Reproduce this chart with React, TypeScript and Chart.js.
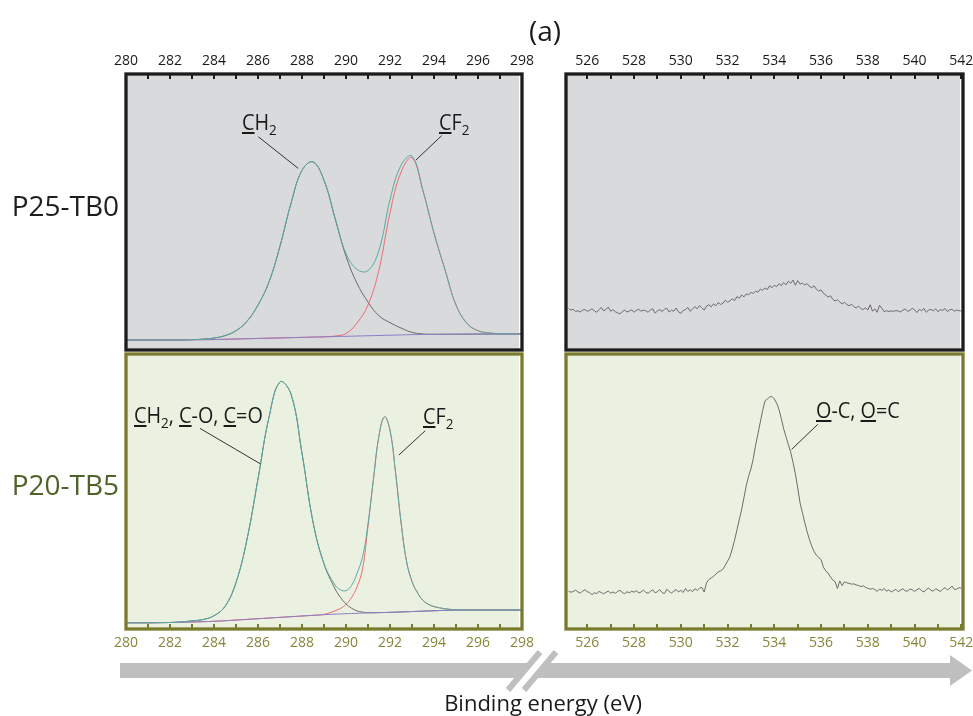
import React, { useEffect, useRef } from "react";
import { Chart, registerables } from "chart.js";

Chart.register(...registerables);

// ---------- axis ticks ----------
const C1S_TICKS = [280, 281, 282, 283, 284, 285, 286, 287, 288, 289, 290, 291, 292, 293, 294, 295, 296, 297, 298];
const C1S_TICK_LABELS = [280, 282, 284, 286, 288, 290, 292, 294, 296, 298];
const O1S_TICKS = [526, 527, 528, 529, 530, 531, 532, 533, 534, 535, 536, 537, 538, 539, 540, 541, 542];
const O1S_TICK_LABELS = [526, 528, 530, 532, 534, 536, 538, 540, 542];

// ---------- C1s, P25-TB0 (binding energy, eV) ----------
const TB0_C1S_X = [280, 280.5, 281, 281.5, 282, 282.5, 283, 283.5, 284, 284.5, 285, 285.5, 286, 286.5, 287, 287.5, 288, 288.5, 289, 289.5, 290, 290.5, 291, 291.5, 292, 292.5, 293, 293.5, 294, 294.5, 295, 295.5, 296, 296.5, 297, 297.5, 298];
const TB0_C1S_ENVELOPE = [2.6, 2.6, 2.6, 2.6, 2.6, 2.6, 2.7, 2.9, 3.3, 4.2, 6.0, 9.5, 15.5, 24, 37.2, 53.0, 65.2, 68.3, 61.5, 47.7, 34.5, 28.6, 28.2, 35.75, 54.35, 67.05, 70.45, 57.7, 42.05, 28.5, 15.5, 8.7, 6.0, 5.2, 4.9, 4.8, 4.8];
const TB0_C1S_CH2 = [2.6, 2.6, 2.6, 2.6, 2.6, 2.6, 2.7, 2.9, 3.3, 4.2, 6.0, 9.5, 15.5, 24, 37.2, 53.0, 65.2, 68.3, 61.5, 47.5, 33.5, 23.5, 16.6, 11.5, 9.0, 7.0, 5.4, 4.8, 4.7, 4.7, 4.72, 4.75, 4.77, 4.78, 4.8, 4.8, 4.8];
const TB0_C1S_CF2 = [2.6, 2.6, 2.6, 2.6, 2.6, 2.6, 2.65, 2.7, 2.75, 2.85, 2.95, 3.05, 3.15, 3.25, 3.35, 3.45, 3.55, 3.65, 3.75, 4.05, 4.95, 8.85, 15.5, 28.5, 49.5, 64.5, 69.8, 57.5, 42, 28.5, 15.5, 8.7, 6.0, 5.2, 4.9, 4.8, 4.8];
const TB0_C1S_BACKGROUND = [2.6, 2.6, 2.6, 2.6, 2.6, 2.6, 2.65, 2.7, 2.75, 2.85, 2.95, 3.05, 3.15, 3.25, 3.35, 3.45, 3.55, 3.65, 3.75, 3.85, 3.95, 4.05, 4.15, 4.25, 4.35, 4.45, 4.55, 4.6, 4.65, 4.7, 4.72, 4.75, 4.77, 4.78, 4.8, 4.8, 4.8];

// ---------- C1s, P20-TB5 ----------
const TB5_C1S_X = [280, 280.5, 281, 281.5, 282, 282.5, 283, 283.5, 284, 284.5, 285, 285.5, 286, 286.5, 287, 287.5, 288, 288.5, 289, 289.5, 289.75, 290, 290.25, 290.5, 290.75, 291, 291.25, 291.5, 291.75, 292, 292.25, 292.5, 292.75, 293, 293.25, 293.5, 293.75, 294, 294.5, 295, 295.5, 296, 296.5, 297, 297.5, 298];
const TB5_C1S_ENVELOPE = [1.2, 1.2, 1.2, 1.25, 1.3, 1.5, 1.9, 2.4, 3.8, 7.25, 16.1, 32.1, 54.5, 77.3, 90.4, 85.9, 64.0, 38.55, 23.1, 15.2, 13.4, 13.1, 15.0, 19.5, 25.5, 37.8, 54.6, 70.5, 77.5, 72.5, 57.0, 38.5, 24.0, 16.5, 12.3, 9.5, 8.0, 7.2, 6.4, 6.0, 5.9, 5.9, 5.9, 5.9, 5.9, 5.9];
const TB5_C1S_CH = [1.2, 1.2, 1.2, 1.25, 1.3, 1.5, 1.9, 2.4, 3.8, 7.25, 16.1, 32.1, 54.5, 77.3, 90.4, 85.9, 64.0, 38.5, 23.0, 13.8, 10.6, 8.2, 6.6, 5.6, 5.15, 4.95, 4.92, 4.96, 5.0, 5.05, 5.13, 5.2, 5.28, 5.35, 5.43, 5.5, 5.58, 5.65, 5.8, 5.9, 5.9, 5.9, 5.9, 5.9, 5.9, 5.9];
const TB5_C1S_CF2 = [1.2, 1.2, 1.2, 1.25, 1.3, 1.4, 1.5, 1.6, 1.75, 1.95, 2.2, 2.45, 2.7, 2.95, 3.2, 3.45, 3.7, 3.95, 4.3, 5.6, 6.5, 8.0, 10.5, 14.5, 21.0, 37.0, 54.5, 70.5, 77.5, 72.5, 57.0, 38.5, 24.0, 16.5, 12.3, 9.5, 8.0, 7.2, 6.4, 6.0, 5.9, 5.9, 5.9, 5.9, 5.9, 5.9];
const TB5_C1S_BACKGROUND = [1.2, 1.2, 1.2, 1.25, 1.3, 1.4, 1.5, 1.6, 1.75, 1.95, 2.2, 2.45, 2.7, 2.95, 3.2, 3.45, 3.7, 3.95, 4.2, 4.4, 4.48, 4.55, 4.63, 4.7, 4.78, 4.85, 4.9, 4.95, 5.0, 5.05, 5.13, 5.2, 5.28, 5.35, 5.43, 5.5, 5.58, 5.65, 5.8, 5.9, 5.9, 5.9, 5.9, 5.9, 5.9, 5.9];

// ---------- O1s spectra, sampled every 0.1 eV from 525.2 to 542.0 ----------
const O1S_START = 525.2;
const O1S_STEP = 0.1;
const TB0_O1S = [
  14.2, 13.6, 13.9, 13.1, 13.4, 12.9, 13.6, 13.8, 13.2, 13.5,
  14.1, 13.4, 12.8, 13.7, 14.6, 13.3, 13.9, 14.7, 13.2, 13.8,
  13.0, 12.6, 12.2, 13.1, 13.6, 12.9, 13.3, 13.7, 12.8, 13.5,
  13.9, 13.2, 13.6, 13.4, 12.8, 13.7, 14.1, 12.5, 13.3, 13.8,
  13.1, 13.9, 14.3, 12.9, 13.6, 13.2, 14.4, 13.0, 12.4, 13.5,
  13.8, 14.6, 13.2, 14.0, 14.9, 14.1, 15.3, 14.4, 13.6, 15.1,
  15.6, 14.8, 15.9, 15.2, 16.4, 15.7, 16.1, 17.3, 16.5, 17.0,
  17.8, 17.1, 18.6, 18.0, 19.2, 18.5, 19.6, 19.3, 20.1, 19.8,
  20.6, 20.2, 21.4, 20.9, 21.8, 21.2, 22.6, 21.9, 22.8, 22.3,
  23.4, 22.6, 23.8, 22.9, 24.3, 23.5, 24.7, 22.8, 24.5, 23.2,
  23.6, 22.9, 23.4, 22.4, 21.9, 22.6, 21.3, 20.6, 21.1, 19.8,
  19.2, 18.4, 18.9, 17.6, 17.0, 17.4, 16.6, 15.9, 16.5, 15.7,
  15.2, 15.8, 14.9, 14.4, 15.1, 14.2, 13.8, 14.5, 13.6, 15.6,
  13.2, 14.1, 12.8, 15.4, 14.3, 13.0, 13.4, 13.1, 13.3, 13.2,
  13.4, 13.3, 12.9, 13.6, 14.0, 13.2, 13.5, 14.3, 13.7, 12.7,
  13.9, 13.4, 14.2, 12.8, 13.6, 13.9, 13.3, 14.1, 13.0, 13.8,
  13.5, 14.2, 13.1, 13.7, 13.9, 13.2, 13.6, 13.4, 13.3,
];
const TB5_O1S = [
  12.9, 12.5, 12.8, 13.3, 12.6, 12.2, 12.9, 13.4, 12.7, 12.4,
  11.6, 12.3, 12.0, 12.8, 12.4, 11.9, 12.5, 12.9, 12.2, 12.6,
  12.1, 12.8, 13.2, 12.4, 12.0, 12.7, 12.3, 12.9, 12.5, 13.1,
  12.2, 12.6, 13.3, 12.5, 12.1, 12.8, 13.4, 12.3, 12.7, 13.5,
  12.4, 12.0, 13.6, 12.8, 12.2, 12.9, 13.5, 12.6, 13.2, 12.4,
  13.9, 12.8, 13.4, 12.7, 13.8, 13.2, 14.0, 14.3, 12.6, 16.0,
  17.2, 17.8, 18.4, 19.2, 20.0, 20.4, 21.0, 22.5, 24.0, 25.6,
  28.5, 31.8, 35.5, 39.3, 43.0, 47.5, 52.0, 55.5, 58.2, 62.0,
  67.0, 71.2, 75.5, 79.8, 83.3, 84.1, 84.8, 85.0, 84.1, 82.5,
  80.2, 76.8, 73.0, 70.1, 67.2, 64.4, 60.6, 56.4, 51.2, 45.6,
  42.0, 38.4, 35.0, 32.1, 29.6, 27.6, 26.2, 25.4, 24.6, 21.8,
  20.4, 19.6, 18.2, 17.0, 16.4, 13.9, 16.7, 15.0, 16.4, 16.0,
  15.8, 15.5, 15.6, 15.2, 15.0, 14.6, 14.9, 14.3, 14.0, 13.6,
  13.9, 13.5, 12.8, 13.7, 13.2, 13.9, 12.9, 13.4, 12.6, 13.1,
  13.6, 12.7, 13.3, 13.8, 13.0, 12.9, 13.7, 13.4, 12.8, 13.5,
  13.9, 13.1, 12.6, 13.5, 14.1, 13.2, 12.9, 13.8, 13.3, 12.8,
  13.6, 14.2, 13.4, 13.9, 14.8, 13.5, 13.7, 14.2, 14.0,
];
const O1S_X = TB0_O1S.map((_, i) => +(O1S_START + i * O1S_STEP).toFixed(1));

// ---------- colours ----------
const ENV_COLOR = "#5aa9a3";
const CH_COLOR = "#6a6a6a";
const CF_COLOR = "#ee6b73";
const BG_COLOR = "#8a7fc8";
const O1S_COLOR = "#6c6c6c";
const OLIVE = "#7b7b2e";
const OLIVE_TEXT = "#86863a";
const ROW2_TEXT = "#4f6228";

type Series = { xs: number[]; ys: number[]; color: string; smooth: boolean };
type Leader = [number, number, number, number];
type PanelProps = {
  box: { x: number; y: number; w: number; h: number };
  pad: { left: number; right: number; top: number; bottom: number };
  axis: "top" | "bottom";
  xMin: number;
  xMax: number;
  ticks: number[];
  labelled: number[];
  series: Series[];
  fill: string;
  frame: string;
  tickColor: string;
  labelColor: string;
  leaders: Leader[];
};

function Panel(p: PanelProps) {
  const ref = useRef<HTMLCanvasElement>(null);
  useEffect(() => {
    const canvas = ref.current;
    if (!canvas) return;
    const deco = {
      id: "deco",
      beforeDraw(chart: any) {
        const { ctx, chartArea: a } = chart;
        ctx.save();
        ctx.fillStyle = p.fill;
        ctx.fillRect(a.left, a.top, a.right - a.left - 3, a.bottom - a.top);
        ctx.restore();
      },
      afterDraw(chart: any) {
        const { ctx, chartArea: a, scales } = chart;
        const sx = scales.x;
        const sy = scales.y;
        ctx.save();
        ctx.strokeStyle = "#333333";
        ctx.lineWidth = 1;
        for (const [x1, y1, x2, y2] of p.leaders) {
          ctx.beginPath();
          ctx.moveTo(sx.getPixelForValue(x1), sy.getPixelForValue(y1));
          ctx.lineTo(sx.getPixelForValue(x2), sy.getPixelForValue(y2));
          ctx.stroke();
        }
        ctx.strokeStyle = p.tickColor;
        ctx.lineWidth = 2;
        for (const t of p.ticks) {
          const px = Math.round(sx.getPixelForValue(t));
          ctx.beginPath();
          if (p.axis === "top") {
            ctx.moveTo(px, a.top);
            ctx.lineTo(px, a.top + 5);
          } else {
            ctx.moveTo(px, a.bottom);
            ctx.lineTo(px, a.bottom - 5);
          }
          ctx.stroke();
        }
        ctx.strokeStyle = p.frame;
        ctx.lineWidth = 3.3;
        ctx.strokeRect(a.left, a.top, a.right - a.left, a.bottom - a.top);
        ctx.restore();
      },
    };
    const chart = new Chart(canvas, {
      type: "line",
      data: {
        datasets: p.series.map((s) => ({
          data: s.xs.map((x, i) => ({ x, y: s.ys[i] })),
          borderColor: s.color,
          borderWidth: 1,
          pointRadius: 0,
          fill: false,
          tension: s.smooth ? 0.4 : 0,
        })),
      },
      options: {
        animation: false,
        responsive: false,
        maintainAspectRatio: false,
        events: [],
        layout: { padding: p.pad },
        plugins: { legend: { display: false }, tooltip: { enabled: false } },
        scales: {
          x: {
            type: "linear",
            position: p.axis,
            min: p.xMin,
            max: p.xMax,
            grid: { display: false, drawTicks: false },
            border: { display: false },
            afterBuildTicks: (scale: any) => {
              scale.ticks = p.ticks.map((v) => ({ value: v }));
            },
            afterFit: (scale: any) => {
              scale.height = 20;
            },
            ticks: {
              autoSkip: false,
              maxRotation: 0,
              minRotation: 0,
              padding: p.axis === "top" ? 5 : 6,
              color: p.labelColor,
              font: { family: "'Open Sans', sans-serif", size: 14 },
              callback: (v: any) => (p.labelled.includes(Number(v)) ? String(v) : ""),
            },
          },
          y: { display: false, min: -1.11, max: 100.74 },
        },
      } as any,
      plugins: [deco],
    } as any);
    return () => chart.destroy();
  }, []);
  return (
    <canvas
      ref={ref}
      width={p.box.w}
      height={p.box.h}
      style={{ position: "absolute", left: p.box.x, top: p.box.y, width: p.box.w, height: p.box.h }}
    />
  );
}

const U = ({ children }: { children: React.ReactNode }) => (
  <span style={{ textDecoration: "underline", textDecorationThickness: "2px", textUnderlineOffset: "2px" }}>{children}</span>
);
const Sub = ({ children }: { children: React.ReactNode }) => (
  <span style={{ fontSize: 15, verticalAlign: "-5px", lineHeight: 0 }}>{children}</span>
);

function Label(props: { left: number; top: number; size?: number; color?: string; center?: boolean; squeeze?: boolean; children: React.ReactNode }) {
  const { left, top, size = 22, color = "#1a1a1a", center, squeeze, children } = props;
  let transform = "";
  if (center) transform += "translateX(-50%) ";
  if (squeeze) transform += "scaleX(0.9)";
  return (
    <div
      style={{
        position: "absolute",
        left,
        top,
        fontSize: size,
        lineHeight: 1,
        color,
        whiteSpace: "nowrap",
        fontFamily: "'Open Sans', sans-serif",
        transform: transform || undefined,
        transformOrigin: "left top",
      }}
    >
      {children}
    </div>
  );
}

export default function App() {
  // draw order: first dataset ends on top
  const c1sTop = [
    { xs: TB0_C1S_X, ys: TB0_C1S_ENVELOPE, color: ENV_COLOR, smooth: true },
    { xs: TB0_C1S_X, ys: TB0_C1S_BACKGROUND, color: BG_COLOR, smooth: true },
    { xs: TB0_C1S_X, ys: TB0_C1S_CF2, color: CF_COLOR, smooth: true },
    { xs: TB0_C1S_X, ys: TB0_C1S_CH2, color: CH_COLOR, smooth: true },
  ];
  const c1sBot = [
    { xs: TB5_C1S_X, ys: TB5_C1S_ENVELOPE, color: ENV_COLOR, smooth: true },
    { xs: TB5_C1S_X, ys: TB5_C1S_BACKGROUND, color: BG_COLOR, smooth: true },
    { xs: TB5_C1S_X, ys: TB5_C1S_CF2, color: CF_COLOR, smooth: true },
    { xs: TB5_C1S_X, ys: TB5_C1S_CH, color: CH_COLOR, smooth: true },
  ];
  return (
    <div
      style={{
        position: "fixed",
        left: 0,
        top: 0,
        width: 973,
        height: 716,
        background: "#ffffff",
        overflow: "hidden",
        fontFamily: "'Open Sans', sans-serif",
      }}
    >
      <Panel
        box={{ x: 96, y: 40, w: 456, h: 316 }}
        pad={{ left: 30, right: 30, top: 14, bottom: 6 }}
        axis="top"
        xMin={280}
        xMax={298}
        ticks={C1S_TICKS}
        labelled={C1S_TICK_LABELS}
        series={c1sTop}
        fill="#d9dadc"
        frame="#1c1c1c"
        tickColor="#1c1c1c"
        labelColor="#1a1a1a"
        leaders={[
          [286.01, 77.6, 287.83, 65.9],
          [294.35, 78.0, 293.18, 69.0],
        ]}
      />
      <Panel
        box={{ x: 540, y: 40, w: 456, h: 316 }}
        pad={{ left: 26, right: 33, top: 14, bottom: 6 }}
        axis="top"
        xMin={525.09}
        xMax={542.07}
        ticks={O1S_TICKS}
        labelled={O1S_TICK_LABELS}
        series={[{ xs: O1S_X, ys: TB0_O1S, color: O1S_COLOR, smooth: false }]}
        fill="#d9dadc"
        frame="#1c1c1c"
        tickColor="#1c1c1c"
        labelColor="#1a1a1a"
        leaders={[]}
      />
      <Panel
        box={{ x: 96, y: 348, w: 456, h: 320 }}
        pad={{ left: 30, right: 30, top: 6, bottom: 19 }}
        axis="bottom"
        xMin={280}
        xMax={298}
        ticks={C1S_TICKS}
        labelled={C1S_TICK_LABELS}
        series={c1sBot}
        fill="#ebf1e1"
        frame={OLIVE}
        tickColor={OLIVE}
        labelColor={OLIVE_TEXT}
        leaders={[
          [283.36, 73.2, 286.12, 60.0],
          [293.6, 72.3, 292.4, 63.3],
        ]}
      />
      <Panel
        box={{ x: 540, y: 348, w: 456, h: 320 }}
        pad={{ left: 26, right: 33, top: 6, bottom: 19 }}
        axis="bottom"
        xMin={525.09}
        xMax={542.07}
        ticks={O1S_TICKS}
        labelled={O1S_TICK_LABELS}
        series={[{ xs: O1S_X, ys: TB5_O1S, color: O1S_COLOR, smooth: false }]}
        fill="#ebf1e1"
        frame={OLIVE}
        tickColor={OLIVE}
        labelColor={OLIVE_TEXT}
        leaders={[[535.86, 74.7, 534.74, 65.4]]}
      />

      <svg width={973} height={716} style={{ position: "absolute", left: 0, top: 0, pointerEvents: "none" }}>
        <polygon points="120,663 530.7,663 518.1,678 120,678" fill="#bfbfbf" />
        <line x1={508} y1={690} x2={540} y2={652} stroke="#bfbfbf" strokeWidth={6} />
        <line x1={524} y1={690} x2={556} y2={652} stroke="#bfbfbf" strokeWidth={6} />
        <polygon points="546.7,663 950,663 950,655 972,670.5 950,686 950,678 534.1,678" fill="#bfbfbf" />
      </svg>

      <Label left={545} top={16.4} size={28} center>
        (a)
      </Label>
      <Label left={11.7} top={190.8} size={28} color="#1e1e1e">
        P25-TB0
      </Label>
      <Label left={11.7} top={470.1} size={28} color={ROW2_TEXT}>
        P20-TB5
      </Label>

      <Label left={241.7} top={109.8} squeeze>
        <U>C</U>H<Sub>2</Sub>
      </Label>
      <Label left={439.3} top={109.5} squeeze>
        <U>C</U>F<Sub>2</Sub>
      </Label>
      <Label left={134} top={403.2} squeeze>
        <U>C</U>H<Sub>2</Sub>, <U>C</U>-O, <U>C</U>=O
      </Label>
      <Label left={423.3} top={403.8} squeeze>
        <U>C</U>F<Sub>2</Sub>
      </Label>
      <Label left={815.7} top={397.8} squeeze>
        <U>O</U>-C, <U>O</U>=C
      </Label>

      <Label left={543} top={690.5} size={22} center>
        Binding energy (eV)
      </Label>
    </div>
  );
}
